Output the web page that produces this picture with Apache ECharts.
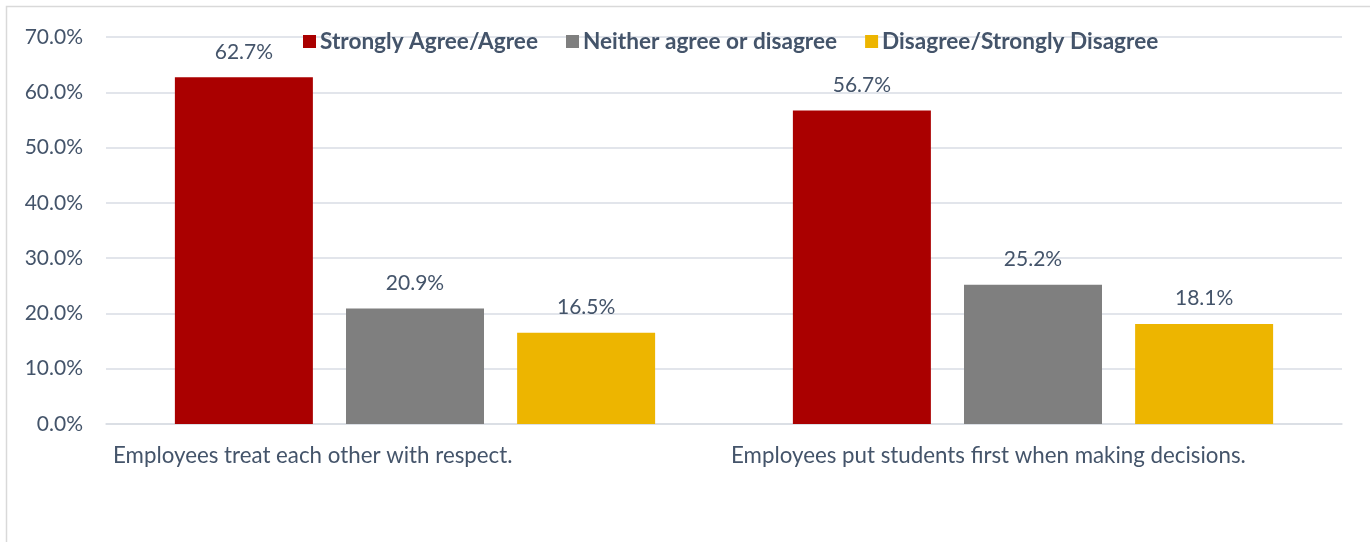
<!DOCTYPE html>
<html>
<head>
<meta charset="utf-8">
<script src="https://cdn.jsdelivr.net/npm/echarts@6/dist/echarts.min.js"></script>
<style>
html,body{margin:0;padding:0;background:#fff;}
#chart{width:1370px;height:542px;}
</style>
</head>
<body>
<div id="chart"></div>
<script>
const categories = ['Employees treat each other with respect.', 'Employees put students first when making decisions.'];
const seriesNames = ['Strongly Agree/Agree', 'Neither agree or disagree', 'Disagree/Strongly Disagree'];
const agreeValues = [62.7, 56.7];
const neitherValues = [20.9, 25.2];
const disagreeValues = [16.5, 18.1];
const yTicks = [0, 10, 20, 30, 40, 50, 60, 70];

const FONT = 'Lato, "Open Sans", sans-serif';
const TXT = '#44546a';
const colors = ['#aa0000', '#7f7f7f', '#edb500'];

const chart = echarts.init(document.getElementById('chart'), null, {renderer: 'canvas'});
const labelCfg = {
  show: true, position: 'top', distance: 15,
  formatter: p => p.value.toFixed(1) + '%',
  color: TXT, fontFamily: FONT, fontSize: 21
};
const vals = [agreeValues, neitherValues, disagreeValues];
chart.setOption({
  animation: false,
  graphic: [{
    type: 'rect', z: -10,
    shape: {x: 6.5, y: 6.5, width: 1400, height: 600},
    style: {fill: 'none', stroke: '#d9d9d9', lineWidth: 1.5}
  }],
  legend: {
    top: 25, left: 298,
    itemWidth: 13, itemHeight: 13, itemGap: 28,
    icon: 'rect',
    textStyle: {color: TXT, fontFamily: FONT, fontSize: 22.6, fontWeight: 'bold', padding: [0, 0, 0, -1]},
    data: seriesNames
  },
  grid: {left: 106, right: 28, top: 37, bottom: 118, containLabel: false},
  xAxis: [{
    type: 'category', data: categories,
    axisLine: {show: true, lineStyle: {color: '#d9dde4', width: 1.5}},
    axisTick: {show: false},
    axisLabel: {show: false}
  }, {
    type: 'value', min: 0, max: 2, interval: 1, position: 'bottom',
    axisLine: {show: false}, axisTick: {show: false}, splitLine: {show: false},
    axisLabel: {
      show: true, align: 'left', margin: 21, showMaxLabel: false,
      padding: [0, 0, 0, 7],
      formatter: v => categories[v] || '',
      color: TXT, fontFamily: FONT, fontSize: 22.3
    }
  }],
  yAxis: {
    type: 'value', min: 0, max: 70, interval: 10,
    axisLine: {show: false}, axisTick: {show: false},
    splitLine: {lineStyle: {color: '#d9dde4', width: 1.5}},
    axisLabel: {
      margin: 23,
      formatter: v => yTicks.includes(v) ? v.toFixed(1) + '%' : '',
      color: TXT, fontFamily: FONT, fontSize: 21
    }
  },
  series: seriesNames.map((n, i) => ({
    name: n, type: 'bar', data: vals[i], xAxisIndex: 0,
    barWidth: 138, barGap: '24%',
    itemStyle: {color: colors[i]},
    label: labelCfg
  }))
});
</script>
</body>
</html>
